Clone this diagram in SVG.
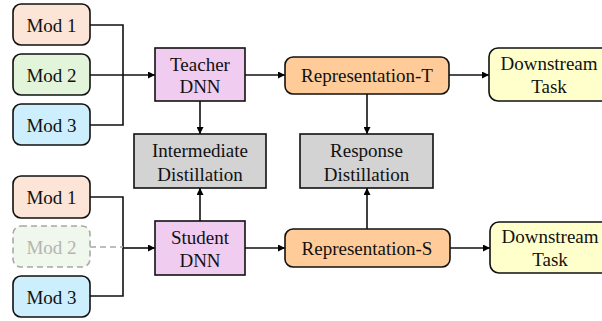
<svg xmlns="http://www.w3.org/2000/svg" width="602" height="321" viewBox="0 0 602 321">
<defs>
<marker id="ah" viewBox="0 0 10 10" refX="10" refY="5" markerWidth="7" markerHeight="7" markerUnits="userSpaceOnUse" orient="auto"><path d="M0,0 L10,5 L0,10 z" fill="#000"/></marker>
</defs>
<style>
text{font-family:"Liberation Serif","Times New Roman",serif;font-size:19px;fill:#111;text-anchor:middle}
.b{stroke:#111;stroke-width:1.6}
.c{fill:none;stroke:#111;stroke-width:1.6}
.a{marker-end:url(#ah)}
.d{fill:none;stroke:#a8a8a8;stroke-width:1.6;stroke-dasharray:6,4}
</style>
<rect width="602" height="321" fill="#fff"/>
<g id="connectors">
<polyline class="c" points="90,25 123,25 123,125 90,125"/>
<line class="c a" x1="90" y1="75" x2="155" y2="75"/>
<line class="c a" x1="245" y1="75" x2="285" y2="75"/>
<line class="c a" x1="449" y1="75" x2="489" y2="75"/>
<line class="c a" x1="200" y1="101" x2="200" y2="134"/>
<line class="c a" x1="367" y1="94" x2="367" y2="134"/>
<polyline class="c" points="90,197 123,197 123,296 90,296"/>
<line class="d" x1="90" y1="247" x2="123" y2="247"/>
<line class="c a" x1="123" y1="248" x2="155" y2="248"/>
<line class="c a" x1="245" y1="248" x2="285" y2="248"/>
<line class="c a" x1="450" y1="248" x2="490" y2="248"/>
<line class="c a" x1="200" y1="221" x2="200" y2="188"/>
<line class="c a" x1="367" y1="229" x2="367" y2="188"/>
</g>
<g id="mod1-t"><rect class="b" x="13" y="4" width="77" height="41" rx="8" fill="#fce4d6"/><text x="51.5" y="31.5">Mod 1</text></g>
<g id="mod2-t"><rect class="b" x="13" y="54" width="77" height="41" rx="8" fill="#e2f4d9"/><text x="51.5" y="81.5">Mod 2</text></g>
<g id="mod3-t"><rect class="b" x="13" y="104" width="77" height="41" rx="8" fill="#cdeefd"/><text x="51.5" y="131.5">Mod 3</text></g>
<g id="teacher"><rect class="b" x="155" y="48" width="90" height="53" fill="#f0ccf0"/><text x="200" y="71">Teacher</text><text x="200" y="93">DNN</text></g>
<g id="rep-t"><rect class="b" x="285" y="57" width="164" height="37" rx="8" fill="#ffcc99"/><text x="367" y="82">Representation-T</text></g>
<g id="down-t"><rect class="b" x="489" y="48" width="122" height="53" rx="9" fill="#ffffcc"/><text x="549" y="70">Downstream</text><text x="549" y="93">Task</text></g>
<g id="intermediate"><rect class="b" x="134" y="134" width="132" height="54" fill="#d3d3d3"/><text x="200" y="157">Intermediate</text><text x="200" y="181">Distillation</text></g>
<g id="response"><rect class="b" x="300" y="134" width="133" height="54" fill="#d3d3d3"/><text x="366.5" y="157">Response</text><text x="366.5" y="181">Distillation</text></g>
<g id="mod1-s"><rect class="b" x="13" y="176" width="77" height="42" rx="8" fill="#fce4d6"/><text x="51.5" y="204">Mod 1</text></g>
<g id="mod2-s"><rect class="d" x="13" y="226" width="77" height="41" rx="8" fill="#f0f7ec" style="fill:#f0f7ec"/><text x="51.5" y="254" style="fill:#b4b4b4">Mod 2</text></g>
<g id="mod3-s"><rect class="b" x="13" y="276" width="77" height="41" rx="8" fill="#cdeefd"/><text x="51.5" y="303.5">Mod 3</text></g>
<g id="student"><rect class="b" x="155" y="221" width="90" height="54" fill="#f0ccf0"/><text x="200" y="244">Student</text><text x="200" y="267">DNN</text></g>
<g id="rep-s"><rect class="b" x="285" y="229" width="165" height="38" rx="8" fill="#ffcc99"/><text x="367" y="255">Representation-S</text></g>
<g id="down-s"><rect class="b" x="490" y="222" width="122" height="51" rx="9" fill="#ffffcc"/><text x="550" y="243">Downstream</text><text x="550" y="266">Task</text></g>
</svg>
